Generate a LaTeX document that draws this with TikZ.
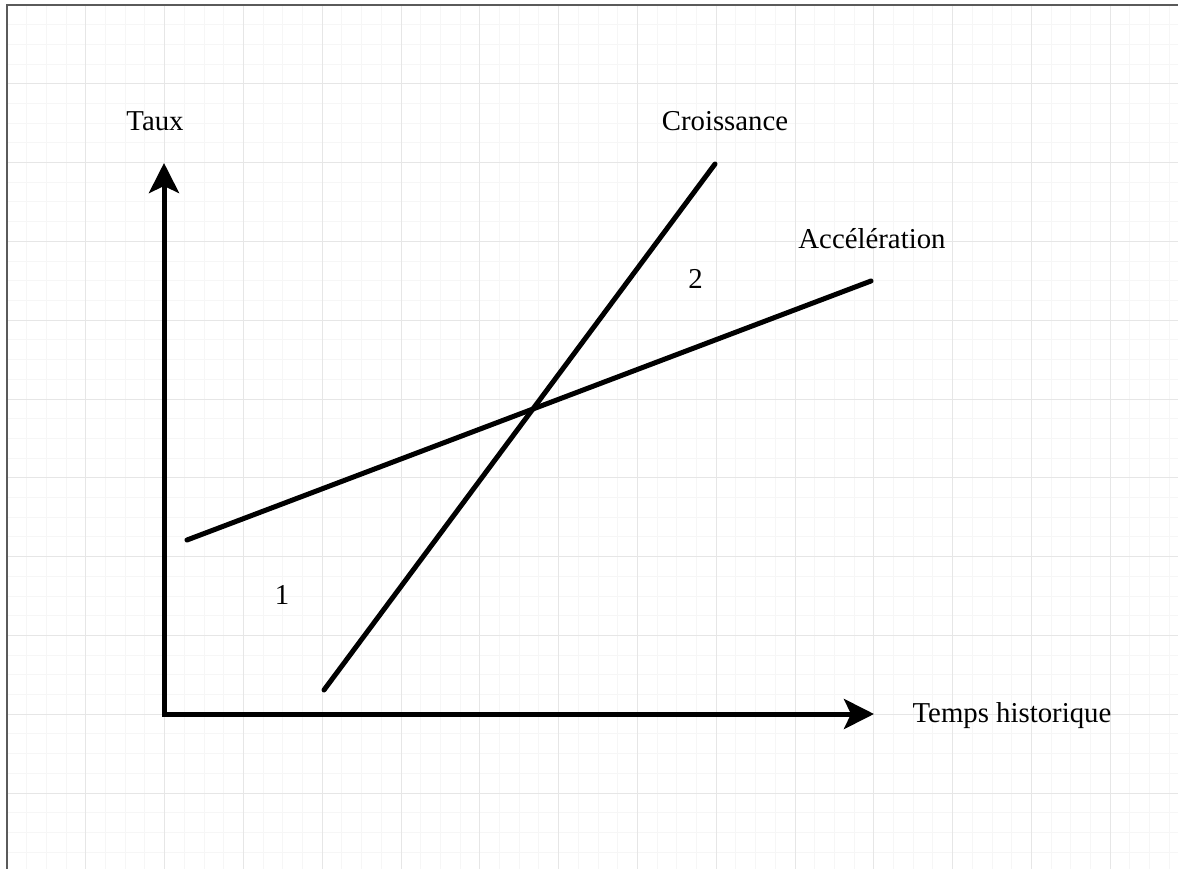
\documentclass[tikz,border=0pt]{standalone}
\usepackage{fontspec}
\setmainfont{Liberation Serif}
\usetikzlibrary{arrows.meta}
\definecolor{minorgrid}{HTML}{F6F6F6}
\definecolor{majorgrid}{HTML}{E6E6E6}
\definecolor{framegray}{HTML}{5A5A5A}
\begin{document}
\begin{tikzpicture}[x=1pt,y=-1pt,
  lbl/.style={font=\fontsize{28.8}{34}\selectfont, anchor=base, inner sep=0pt},
  axisline/.style={line width=5pt, line join=miter,
    {Stealth[length=30pt,width=30pt,inset=7pt]}-{Stealth[length=30pt,width=30pt,inset=7pt]}},
  trend/.style={line width=5pt, line cap=round}]
\useasboundingbox (0,0) rectangle (1178,869);
\fill[white] (0,0) rectangle (1178,869);
\begin{scope}[shift={(7,5)}]
  \draw[minorgrid, line width=1pt] (0,0) grid[step=19.7pt] (1171,864);
  \draw[majorgrid, line width=1pt] (0,0) grid[step=78.8pt] (1171,864);
\end{scope}
\draw[framegray, line width=2.5pt] (7,869) -- (7,5) -- (1178,5);

\coordinate (O) at (164,714);
\coordinate (ytip) at (164,163);
\coordinate (xtip) at (874,714);
\coordinate (c1) at (324,690);
\coordinate (c2) at (715,164);
\coordinate (a1) at (187,540);
\coordinate (a2) at (871,281);

\draw[axisline] (ytip) -- (O) -- (xtip);
\draw[trend] (c1) -- (c2);
\draw[trend] (a1) -- (a2);

\node[lbl] (taux) at (155,131) {Taux};
\node[lbl] (croiss) at (725,131) {Croissance};
\node[lbl] (accel) at (872,248) {Accélération};
\node[lbl] (deux) at (695.5,288) {2};
\node[lbl] (un) at (282,604) {1};
\node[lbl] (temps) at (1012,722) {Temps historique};
\end{tikzpicture}
\end{document}
